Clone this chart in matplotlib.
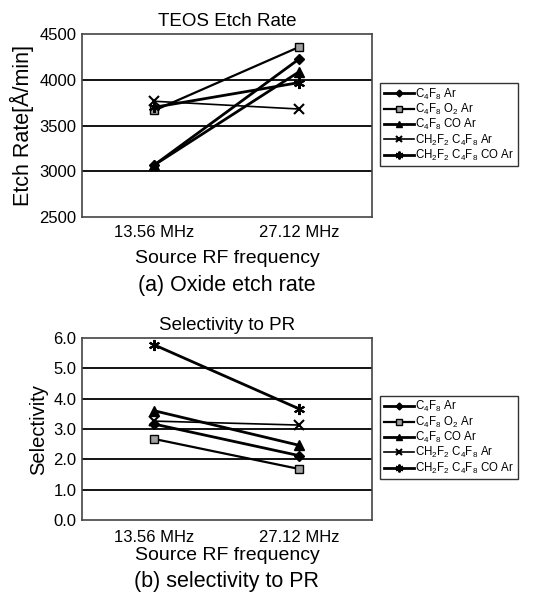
import matplotlib
matplotlib.use("Agg")
import matplotlib.pyplot as plt
import numpy as np

plt.rcParams['font.family'] = ['Liberation Sans', 'DejaVu Sans']
plt.rcParams['mathtext.fontset'] = 'custom'
plt.rcParams['mathtext.rm'] = 'Liberation Sans'
plt.rcParams['mathtext.it'] = 'Liberation Sans'

# data
freqs = ['13.56 MHz', '27.12 MHz']
series = [r'C$_4$F$_8$ Ar', r'C$_4$F$_8$ O$_2$ Ar', r'C$_4$F$_8$ CO Ar',
          r'CH$_2$F$_2$ C$_4$F$_8$ Ar', r'CH$_2$F$_2$ C$_4$F$_8$ CO Ar']

etch_c4f8_ar = [3070, 4230]
etch_c4f8_o2_ar = [3665, 4360]
etch_c4f8_co_ar = [3070, 4090]
etch_ch2f2_ar = [3765, 3680]
etch_ch2f2_co_ar = [3700, 3970]

sel_c4f8_ar = [3.16, 2.12]
sel_c4f8_o2_ar = [2.67, 1.68]
sel_c4f8_co_ar = [3.60, 2.46]
sel_ch2f2_ar = [3.26, 3.13]
sel_ch2f2_co_ar = [5.77, 3.66]

styles = [
    dict(marker='D', ms=5, mfc='black', mec='black', lw=2.0),
    dict(marker='s', ms=6, mfc='#a0a0a0', mec='black', mew=1.0, lw=1.6),
    dict(marker='^', ms=7, mfc='black', mec='black', lw=2.0),
    dict(marker='x', ms=7, mec='black', mew=1.5, lw=1.2),
    dict(marker=(6, 2, 0), ms=8, mec='black', mew=1.5, lw=2.0),
]

fig = plt.figure(figsize=(5.43, 5.97), dpi=100)
ax1 = fig.add_axes([0.151, 0.6365, 0.534, 0.3065])
ax2 = fig.add_axes([0.151, 0.129, 0.534, 0.3048])

x = np.arange(len(freqs))


def draw(ax, data, ylim, yticks, fmt, title, ylabel, ylabel_size, caption,
         cap_y, leg_top, xpad, lpad):
    handles = []
    for vals, st, name in zip(data, styles, series):
        h, = ax.plot(x, vals, color='black', label=name, clip_on=False, **st)
        handles.append(h)
    ax.set_xlim(-0.5, 1.5)
    ax.set_ylim(*ylim)
    ax.set_yticks(yticks)
    ax.set_yticklabels([fmt.format(v) for v in yticks])
    ax.set_xticks(x)
    ax.set_xticklabels(freqs)
    ax.tick_params(axis='y', labelsize=12, length=0, pad=4)
    ax.tick_params(axis='x', labelsize=12, length=0, pad=xpad)
    for v in yticks[1:-1]:
        ax.axhline(v, color='black', lw=1.3, zorder=0)
    for s in ax.spines.values():
        s.set_color('#444444')
        s.set_linewidth(1.2)
    ax.set_title(title, fontsize=13.5, pad=6)
    ax.set_ylabel(ylabel, fontsize=ylabel_size, labelpad=4)
    ax.set_xlabel('Source RF frequency', fontsize=14, labelpad=lpad)
    fig.text(0.418, cap_y, caption, fontsize=15.5, ha='center', va='center')
    fig.legend(handles=handles, loc='upper left',
               bbox_to_anchor=(0.700, leg_top), fontsize=8.3,
               frameon=True, fancybox=False, edgecolor='black',
               handlelength=2.6, handletextpad=0.15, labelspacing=0.02,
               borderpad=0.3, borderaxespad=0, markerscale=0.7)


draw(ax1,
     [etch_c4f8_ar, etch_c4f8_o2_ar, etch_c4f8_co_ar, etch_ch2f2_ar, etch_ch2f2_co_ar],
     (2500, 4500), [2500, 3000, 3500, 4000, 4500], '{:d}',
     'TEOS Etch Rate', 'Etch Rate[Å/min]', 15.5, '(a) Oxide etch rate',
     1 - 285 / 597, 0.861, 6, 7)
draw(ax2,
     [sel_c4f8_ar, sel_c4f8_o2_ar, sel_c4f8_co_ar, sel_ch2f2_ar, sel_ch2f2_co_ar],
     (0, 6), [0, 1, 2, 3, 4, 5, 6], '{:.1f}',
     'Selectivity to PR', 'Selectivity', 14.5, '(b) selectivity to PR',
     1 - 582 / 597, 0.337, 7, 2)

fig.savefig('out.png', dpi=100)
